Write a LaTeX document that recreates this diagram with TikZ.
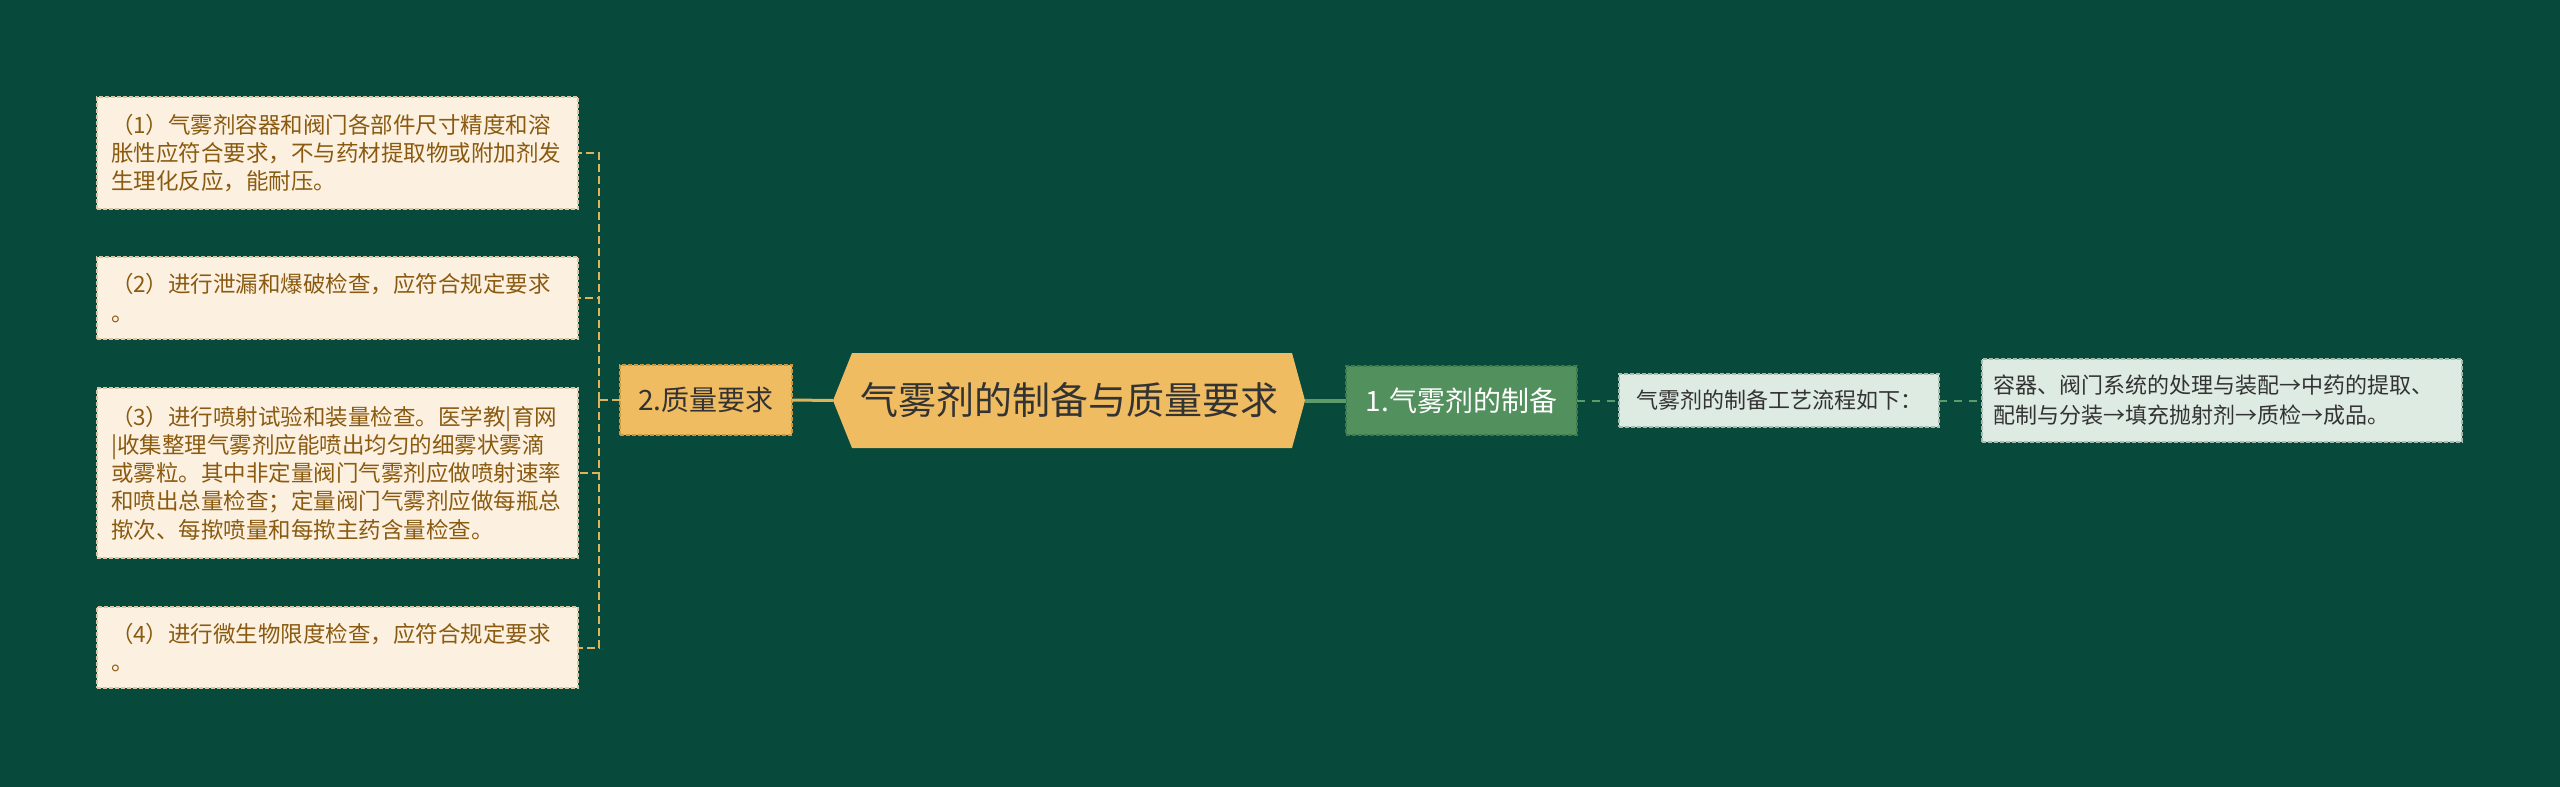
\documentclass[tikz,border=0pt]{standalone}
\usepackage{fontspec}
\setmainfont{Noto Sans CJK SC}
\definecolor{bgcol}{HTML}{07493A}
\definecolor{hexcol}{HTML}{F0BC62}
\definecolor{creamcol}{HTML}{FCF1E1}
\definecolor{creamline}{HTML}{D9C7A3}
\definecolor{creamtext}{HTML}{8A5A10}
\definecolor{qcol}{HTML}{F0BC62}
\definecolor{qline}{HTML}{C9993F}
\definecolor{pcol}{HTML}{52905E}
\definecolor{pline}{HTML}{3E7B4B}
\definecolor{lightcol}{HTML}{DEEBE2}
\definecolor{lightline}{HTML}{A7BCAE}
\definecolor{yline}{HTML}{DDB45C}
\definecolor{gline}{HTML}{5C9C6A}
\definecolor{darktext}{HTML}{333333}
\begin{document}
\begin{tikzpicture}[x=1pt,y=-1pt]
    \tikzstyle{every node}=[inner sep=0pt, outer sep=0pt];
    \tikzstyle{creambox}=[fill=creamcol, draw=creamline, line width=1.5pt, dash pattern=on 4pt off 2pt, text=creamtext, text width=453pt, inner xsep=14pt, align=left, minimum width=481pt, font={\fontsize{22.5}{28.3}\selectfont}];
    \tikzstyle{qbox}=[fill=qcol, draw=qline, line width=1.5pt, dash pattern=on 4pt off 2pt, text=darktext, minimum width=172pt, minimum height=70pt, font={\fontsize{28}{32}\selectfont}];
    \tikzstyle{pbox}=[fill=pcol, draw=pline, line width=1.5pt, dash pattern=on 4pt off 2pt, text=white, minimum width=231pt, minimum height=69pt, font={\fontsize{28}{32}\selectfont}];
    \tikzstyle{lightbox}=[fill=lightcol, draw=lightline, line width=1.5pt, dash pattern=on 4pt off 2pt, text=darktext, align=left, font={\fontsize{22}{30}\selectfont}];
    \tikzstyle{roothex}=[minimum width=472pt, minimum height=95pt, text=darktext, font={\fontsize{38}{44}\selectfont},
        path picture={\fill[hexcol] (path picture bounding box.west) -- ([xshift=19pt]path picture bounding box.north west) -- ([xshift=-13pt]path picture bounding box.north east) -- (path picture bounding box.east) -- ([xshift=-13pt]path picture bounding box.south east) -- ([xshift=19pt]path picture bounding box.south west) -- cycle;}];
    \tikzstyle{yellowsolid}=[draw=yline, line width=3pt];
    \tikzstyle{yellowdash}=[draw=yline, line width=2pt, dash pattern=on 8pt off 4pt];
    \tikzstyle{greensolid}=[draw=gline, line width=4pt];
    \tikzstyle{greendash}=[draw=gline, line width=2pt, dash pattern=on 8pt off 7pt];
    \fill[bgcol] (0,0) rectangle (2560,787);
    \useasboundingbox (0,0) rectangle (2560,787);
    \node[roothex] (root) at (1069,400.5) {气雾剂的制备与质量要求};
    \node[qbox] (q2) at (706,400) {2.质量要求};
    \node[creambox, minimum height=112pt] (b1) at (337.5,153) {（1）气雾剂容器和阀门各部件尺寸精度和溶\\胀性应符合要求，不与药材提取物或附加剂发\\生理化反应，能耐压。};
    \node[creambox, minimum height=82pt] (b2) at (337.5,298) {（2）进行泄漏和爆破检查，应符合规定要求\\。};
    \node[creambox, minimum height=170pt] (b3) at (337.5,473) {（3）进行喷射试验和装量检查。医学教|育网\\|收集整理气雾剂应能喷出均匀的细雾状雾滴\\或雾粒。其中非定量阀门气雾剂应做喷射速率\\和喷出总量检查；定量阀门气雾剂应做每瓶总\\揿次、每揿喷量和每揿主药含量检查。};
    \node[creambox, minimum height=81pt] (b4) at (337.5,647.5) {（4）进行微生物限度检查，应符合规定要求\\。};
    \node[pbox] (p1) at (1461.5,400.5) {1.气雾剂的制备};
    \node[lightbox, minimum width=320pt, minimum height=53pt, inner xsep=13pt] (p1a) at (1779,400.5) {气雾剂的制备工艺流程如下：};
    \node[lightbox, minimum width=480pt, minimum height=83pt, inner xsep=11pt, text width=458pt] (p1b) at (2222,400.5) {容器、阀门系统的处理与装配→中药的提取、\\配制与分装→填充抛射剂→质检→成品。};
    \coordinate (j) at (599,400);
    \draw[yellowsolid] (q2.east) -- (root.west);
    \draw[yellowdash] (q2.west) -- (j);
    \foreach \b in {b1,b2,b3,b4}
        \draw[yellowdash] (j) |- (\b.east);
    \draw[greensolid] (root.east) -- (p1.west);
    \draw[greendash] (p1.east) -- (p1a.west);
    \draw[greendash] (p1a.east) -- (p1b.west);
\end{tikzpicture}
\end{document}
